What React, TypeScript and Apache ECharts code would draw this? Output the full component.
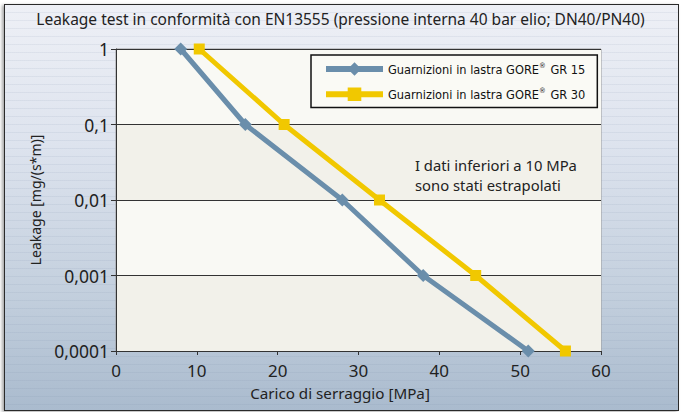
import React, { useEffect, useRef } from "react";
import * as echarts from "echarts";

const titleText = "Leakage test in conformità con EN13555 (pressione interna 40 bar elio; DN40/PN40)";
const seriesNames = ["Guarnizioni in lastra GORE® GR 15", "Guarnizioni in lastra GORE® GR 30"];
const gr15X = [8, 16, 28, 38, 51];
const gr15Y = [1, 0.1, 0.01, 0.001, 0.0001];
const gr30X = [10.3, 20.8, 32.6, 44.5, 55.6];
const gr30Y = [1, 0.1, 0.01, 0.001, 0.0001];
const yTickLabels = ["0,0001", "0,001", "0,01", "0,1", "1"];
const xAxisName = "Carico di serraggio [MPa]";
const yAxisName = "Leakage [mg/(s*m)]";
const noteLines = ["I dati inferiori a 10 MPa", "sono stati estrapolati"];

const FONT = "'Noto Sans', 'Open Sans', sans-serif";
const NARROW = "'Liberation Sans Narrow', 'DejaVu Sans Condensed', sans-serif";

export default function App() {
  const ref = useRef<HTMLDivElement>(null);
  useEffect(() => {
    if (!ref.current) return;
    const chart = echarts.init(ref.current, null, { renderer: "svg" });
    const pair = (xs: number[], ys: number[]) => xs.map((x, i) => [x, ys[i]]);
    chart.setOption({
      animation: false,
      backgroundColor: "transparent",
      title: {
        text: titleText,
        left: "center",
        top: 6,
        padding: [5, 0, 5, 13],
        textStyle: { fontFamily: FONT, fontSize: 15.5, fontWeight: "normal", color: "#222" },
      },
      legend: {
        orient: "vertical",
        left: 311,
        top: 55,
        padding: [6.5, 12],
        itemWidth: 57,
        itemHeight: 17,
        itemGap: 11,
        backgroundColor: "#fafaf5",
        borderColor: "#111",
        borderWidth: 1.5,
        data: seriesNames,
        lineStyle: { width: 6 },
        formatter: (name: string) => name.replace("®", "{sup|®}"),
        textStyle: {
          fontFamily: NARROW,
          fontSize: 12.7,
          color: "#111",
          rich: {
            sup: { fontFamily: NARROW, fontSize: 7.5, verticalAlign: "top", padding: [0, 1, 7, 0], color: "#111" },
          },
        },
      },
      grid: {
        left: 116,
        right: 80,
        top: 49,
        bottom: 61,
        show: true,
        backgroundColor: "#f9f9f4",
        borderColor: "#9a9a9a",
        borderWidth: 1,
      },
      xAxis: {
        type: "value",
        min: 0,
        max: 60,
        interval: 10,
        name: xAxisName,
        nameLocation: "middle",
        nameGap: 34,
        nameTextStyle: { fontFamily: FONT, fontSize: 15.2, color: "#222", padding: [0, 37, 0, 0] },
        axisLine: { lineStyle: { color: "#333", width: 1 } },
        axisTick: { show: true, length: 4, lineStyle: { color: "#333" } },
        axisLabel: { fontFamily: FONT, fontSize: 17, color: "#222", margin: 11 },
        splitLine: { show: false },
      },
      yAxis: {
        type: "log",
        logBase: 10,
        min: 0.0001,
        max: 1,
        name: yAxisName,
        nameLocation: "middle",
        nameGap: 74,
        nameTextStyle: { fontFamily: FONT, fontSize: 14, color: "#222" },
        axisLine: { show: true, lineStyle: { color: "#333", width: 1 } },
        axisTick: { show: true, length: 5, lineStyle: { color: "#333" } },
        axisLabel: {
          fontFamily: FONT,
          fontSize: 17.5,
          color: "#222",
          margin: 7,
          formatter: (v: number) => {
            const e = Math.round(Math.log10(v));
            return yTickLabels[e + 4] ?? "";
          },
        },
        splitLine: { show: true, lineStyle: { color: "#333", width: 1 } },
        splitArea: { show: true, areaStyle: { color: ["#f2f1ea", "#f9f9f4"] } },
      },
      series: [
        {
          name: seriesNames[0],
          type: "line",
          data: pair(gr15X, gr15Y),
          symbol: "diamond",
          symbolSize: 13,
          lineStyle: { color: "#6a8eab", width: 5 },
          itemStyle: { color: "#6a8eab" },
          z: 3,
        },
        {
          name: seriesNames[1],
          type: "line",
          data: pair(gr30X, gr30Y),
          symbol: "rect",
          symbolSize: 11,
          lineStyle: { color: "#f1c800", width: 5 },
          itemStyle: { color: "#f1c800" },
          z: 4,
        },
      ],
      graphic: noteLines.map((t, i) => ({
        type: "text",
        left: 415,
        top: 157 + i * 20.5,
        z: 10,
        style: { text: t, font: `14.8px ${FONT}`, fill: "#222" },
      })),
    });
    return () => chart.dispose();
  }, []);

  return (
    <div style={{ position: "fixed", left: 0, top: 0, width: 681, height: 412, background: "#ffffff", overflow: "hidden" }}>
      <div
        style={{
          position: "absolute",
          left: 4,
          top: 4,
          width: 673,
          height: 405,
          border: "1.5px solid #2a2a2a",
          boxShadow: "-2px 1px 3px rgba(0,0,0,0.35)",
          background:
            "repeating-linear-gradient(to bottom, rgba(255,255,255,0) 0px, rgba(255,255,255,0) 7px, rgba(110,130,160,0.10) 7px, rgba(110,130,160,0.10) 8px), linear-gradient(to bottom, #eef0f6 0%, #dde3ee 35%, #c4d0de 70%, #aabbce 100%)",
        }}
      />
      <div ref={ref} style={{ position: "absolute", left: 0, top: 0, width: 681, height: 412 }} />
    </div>
  );
}
